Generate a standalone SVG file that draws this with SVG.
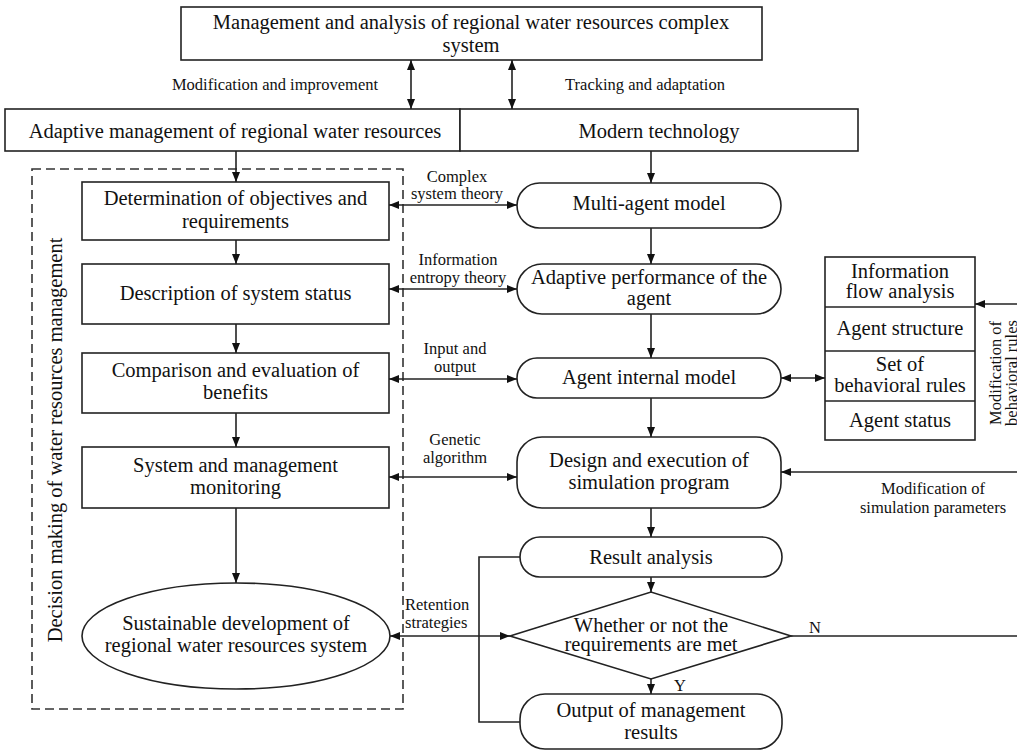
<svg xmlns="http://www.w3.org/2000/svg" width="1017" height="752" viewBox="0 0 1017 752">
<style>
.b{fill:#fff;stroke:#222;stroke-width:1.6}
.t{font-family:"Liberation Serif","Times New Roman",serif;font-size:20.5px;fill:#111;text-anchor:middle}
.l{font-family:"Liberation Serif","Times New Roman",serif;font-size:16.5px;fill:#111;text-anchor:middle}
.c{fill:none;stroke:#222;stroke-width:1.6}
</style>
<defs>
<marker id="a" viewBox="0 0 10 8" refX="10" refY="4" markerWidth="10" markerHeight="8" markerUnits="userSpaceOnUse" orient="auto-start-reverse"><path d="M0,0 L10,4 L0,8 Z" fill="#111"/></marker>
</defs>
<rect width="1017" height="752" fill="#fff"/>
<g id="dashed-frame">
<rect x="32" y="169" width="371" height="540" fill="none" stroke="#333" stroke-width="1.6" stroke-dasharray="9,5"/>
<text class="t" transform="translate(62,440) rotate(-90)">Decision making of water resources management</text>
</g>
<g id="n-top"><rect class="b" x="181" y="7" width="581" height="53"/>
<text class="t" x="471" y="29">Management and analysis  of regional water resources complex</text>
<text class="t" x="471" y="52">system</text></g>
<g id="n-adaptive"><rect class="b" x="5" y="109" width="455" height="42"/>
<text class="t" x="235" y="138">Adaptive management of regional water resources</text></g>
<g id="n-modern"><rect class="b" x="460" y="109" width="398" height="42"/>
<text class="t" x="659" y="138">Modern technology</text></g>
<g id="n-determ"><rect class="b" x="82" y="182" width="307" height="58"/>
<text class="t" x="235.5" y="205">Determination of objectives and</text>
<text class="t" x="235.5" y="228">requirements</text></g>
<g id="n-desc"><rect class="b" x="82" y="264" width="307" height="60"/>
<text class="t" x="235.5" y="300">Description of system status</text></g>
<g id="n-comp"><rect class="b" x="82" y="353" width="307" height="60"/>
<text class="t" x="235.5" y="377">Comparison and evaluation of</text>
<text class="t" x="235.5" y="399">benefits</text></g>
<g id="n-monitor"><rect class="b" x="82" y="447" width="307" height="61"/>
<text class="t" x="235.5" y="472">System and management</text>
<text class="t" x="235.5" y="494">monitoring</text></g>
<g id="n-sustain"><ellipse class="b" cx="236" cy="636" rx="154" ry="53"/>
<text class="t" x="236" y="630">Sustainable development of</text>
<text class="t" x="236" y="652">regional water resources system</text></g>
<g id="n-multi"><rect class="b" x="517" y="183" width="264" height="45" rx="22.5"/>
<text class="t" x="649" y="210">Multi-agent model</text></g>
<g id="n-perf"><rect class="b" x="517" y="264" width="264" height="50" rx="25"/>
<text class="t" x="649" y="284">Adaptive performance of the</text>
<text class="t" x="649" y="305">agent</text></g>
<g id="n-internal"><rect class="b" x="517" y="358" width="264" height="40" rx="20"/>
<text class="t" x="649" y="384">Agent internal model</text></g>
<g id="n-design"><rect class="b" x="517" y="437" width="264" height="71" rx="25"/>
<text class="t" x="649" y="467">Design and execution of</text>
<text class="t" x="649" y="489">simulation program</text></g>
<g id="n-result"><rect class="b" x="520" y="537" width="262" height="40" rx="20"/>
<text class="t" x="651" y="564">Result analysis</text></g>
<g id="n-decision"><polygon class="b" points="510,636 651,592 791,636 651,679"/>
<text class="t" x="651" y="632">Whether or not the</text>
<text class="t" x="651" y="651">requirements are met</text></g>
<g id="n-output"><rect class="b" x="520" y="694" width="262" height="55" rx="25"/>
<text class="t" x="651" y="717">Output of management</text>
<text class="t" x="651" y="739">results</text></g>
<g id="n-agentbox">
<rect class="b" x="825" y="257" width="150" height="183"/>
<line class="c" x1="825" y1="307" x2="975" y2="307"/>
<line class="c" x1="825" y1="351" x2="975" y2="351"/>
<line class="c" x1="825" y1="401" x2="975" y2="401"/>
<text class="t" x="900" y="278">Information</text>
<text class="t" x="900" y="298">flow analysis</text>
<text class="t" x="900" y="335">Agent structure</text>
<text class="t" x="900" y="371">Set of</text>
<text class="t" x="900" y="392">behavioral rules</text>
<text class="t" x="900" y="427">Agent status</text>
</g>
<g id="connectors">
<line class="c" x1="411" y1="60" x2="411" y2="109" marker-start="url(#a)" marker-end="url(#a)"/>
<line class="c" x1="512" y1="60" x2="512" y2="109" marker-start="url(#a)" marker-end="url(#a)"/>
<line class="c" x1="236" y1="151" x2="236" y2="182" marker-end="url(#a)"/>
<line class="c" x1="651" y1="151" x2="651" y2="183" marker-end="url(#a)"/>
<line class="c" x1="236" y1="240" x2="236" y2="264" marker-end="url(#a)"/>
<line class="c" x1="236" y1="324" x2="236" y2="353" marker-end="url(#a)"/>
<line class="c" x1="236" y1="413" x2="236" y2="447" marker-end="url(#a)"/>
<line class="c" x1="236" y1="508" x2="236" y2="583" marker-end="url(#a)"/>
<line class="c" x1="651" y1="228" x2="651" y2="264" marker-end="url(#a)"/>
<line class="c" x1="651" y1="314" x2="651" y2="358" marker-end="url(#a)"/>
<line class="c" x1="651" y1="398" x2="651" y2="437" marker-end="url(#a)"/>
<line class="c" x1="651" y1="508" x2="651" y2="537" marker-end="url(#a)"/>
<line class="c" x1="651" y1="577" x2="651" y2="592" marker-end="url(#a)"/>
<line class="c" x1="651" y1="679" x2="651" y2="694" marker-end="url(#a)"/>
<line class="c" x1="389" y1="205" x2="517" y2="205" marker-start="url(#a)" marker-end="url(#a)"/>
<line class="c" x1="389" y1="289" x2="517" y2="289" marker-start="url(#a)" marker-end="url(#a)"/>
<line class="c" x1="389" y1="379" x2="517" y2="379" marker-start="url(#a)" marker-end="url(#a)"/>
<line class="c" x1="389" y1="477" x2="517" y2="477" marker-start="url(#a)" marker-end="url(#a)"/>
<line class="c" x1="390" y1="636" x2="510" y2="636" marker-start="url(#a)" marker-end="url(#a)"/>
<line class="c" x1="781" y1="378" x2="825" y2="378" marker-start="url(#a)" marker-end="url(#a)"/>
<line class="c" x1="1017" y1="304" x2="975" y2="304" marker-end="url(#a)"/>
<line class="c" x1="1017" y1="472" x2="781" y2="472" marker-end="url(#a)"/>
<line class="c" x1="791" y1="636" x2="1017" y2="636"/>
<polyline class="c" points="520,557 479,557 479,722 520,722"/>
<text class="l" x="275" y="90">Modification and improvement</text>
<text class="l" x="645" y="90">Tracking and adaptation</text>
<text class="l" x="457" y="182">Complex</text>
<text class="l" x="457" y="199">system theory</text>
<text class="l" x="458" y="265">Information</text>
<text class="l" x="458" y="283">entropy theory</text>
<text class="l" x="455" y="354">Input and</text>
<text class="l" x="455" y="372">output</text>
<text class="l" x="455" y="445">Genetic</text>
<text class="l" x="455" y="463">algorithm</text>
<text class="l" x="405" y="610" style="text-anchor:start">Retention</text>
<text class="l" x="405" y="628" style="text-anchor:start">strategies</text>
<text class="l" x="933" y="494">Modification of</text>
<text class="l" x="933" y="513">simulation parameters</text>
<text class="l" x="815" y="633">N</text>
<text class="l" x="680" y="691">Y</text>
<text class="l" transform="translate(1001,373) rotate(-90)">Modification of</text>
<text class="l" transform="translate(1017,373) rotate(-90)">behavioral rules</text>
</g>
</svg>
